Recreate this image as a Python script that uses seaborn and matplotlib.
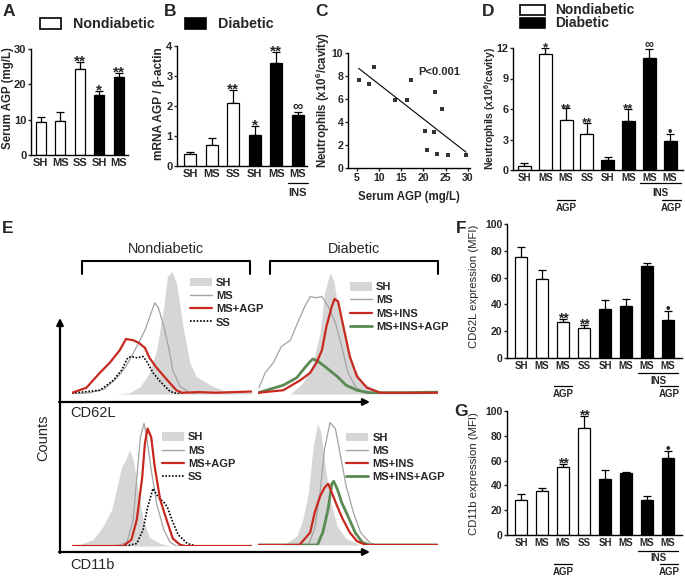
import numpy as np
import pandas as pd
import matplotlib
matplotlib.use("Agg")
import matplotlib.pyplot as plt
import seaborn as sns
from matplotlib import transforms
from matplotlib.patches import Rectangle, Patch, FancyArrowPatch
from matplotlib.lines import Line2D

# ---------------- data ----------------
ND, DB = "Nondiabetic", "Diabetic"

A_labels = ["SH", "MS", "SS", "SH", "MS"]
A_groups = [ND, ND, ND, DB, DB]
A_values = [9.25, 9.7, 24.4, 16.9, 22.2]
A_errors = [1.4, 2.5, 2.0, 1.3, 0.9]
A_marks = ["", "", "**", "*", "**"]

B_labels = ["SH", "MS", "SS", "SH", "MS", "MS"]
B_groups = [ND, ND, ND, DB, DB, DB]
B_values = [0.39, 0.70, 2.10, 1.05, 3.43, 1.71]
B_errors = [0.09, 0.24, 0.42, 0.28, 0.36, 0.09]
B_marks = ["", "", "**", "*", "**", "\u221e"]

C_serum = [5.4, 7.8, 8.9, 13.5, 16.4, 17.2, 20.3, 20.8, 22.4, 22.6, 23.0, 24.25, 25.6, 29.6]
C_neutro = [7.68, 7.3, 8.75, 5.88, 5.94, 7.68, 3.19, 1.59, 3.13, 6.64, 1.22, 5.16, 1.13, 1.16]

DFG_labels = ["SH", "MS", "MS", "SS", "SH", "MS", "MS", "MS"]
DFG_groups = [ND, ND, ND, ND, DB, DB, DB, DB]
D_values = [0.42, 11.44, 4.9, 3.53, 0.98, 4.84, 11.0, 2.84]
D_errors = [0.23, 0.55, 1.15, 1.1, 0.33, 1.2, 0.9, 0.75]
D_marks = ["", "*", "**", "**", "", "**", "\u221e", "\u2022"]

F_values = [75.7, 58.7, 26.5, 22.5, 36.5, 38.7, 69.0, 28.7]
F_errors = [7.5, 6.8, 2.8, 2.5, 6.5, 5.0, 2.0, 6.5]
F_marks = ["", "", "**", "**", "", "", "", "\u2022"]

G_values = [28.4, 35.1, 55.2, 86.0, 45.0, 49.9, 27.9, 61.7]
G_errors = [4.8, 2.7, 2.2, 10.0, 7.5, 0.8, 3.7, 6.4]
G_marks = ["", "", "**", "**", "", "", "", "\u2022"]

# flow cytometry histograms (intensity 0-100, counts 0-100)
# CD62L nondiabetic
L_nd_SH_x = [0, 25, 32, 38, 43, 47, 51, 53, 55.5, 58, 62, 65.5, 69, 77, 84, 92, 100]
L_nd_SH_y = [0, 0, 1, 6, 17, 35, 70, 94, 98, 89, 51, 25, 14, 7, 3, 2, 1]
L_nd_MS_x = [1, 10, 18, 25, 30, 36, 40.5, 43, 46, 48, 51, 54, 56, 60, 65.5, 70]
L_nd_MS_y = [0, 1, 4, 13, 22, 38, 51, 61, 73, 69, 54, 35, 19, 6, 1, 0]
L_nd_AGP_x = [0, 2, 8, 15.5, 21, 26.5, 30, 34, 37, 40.5, 43, 47, 53, 58, 61, 70, 80, 90, 100]
L_nd_AGP_y = [1, 2, 5, 17, 25, 35, 44, 43, 41, 37, 29, 21, 11, 3, 1, 1.5, 1, 1.5, 2]
L_nd_SS_x = [0, 2, 15.5, 23, 27.5, 31, 33, 36, 39.5, 42, 45, 49, 54.5, 58, 62]
L_nd_SS_y = [0, 1, 3, 11, 19, 29, 30, 29, 30, 25, 17, 10, 2, 0.5, 0]
# CD62L diabetic
L_db_SH_x = [0, 18, 25, 30.5, 34.5, 37, 40, 42, 44.5, 49, 53, 58.5, 66, 73, 85, 100]
L_db_SH_y = [0, 0, 9, 25, 49, 81, 97, 91, 70, 43, 22, 9, 3, 1, 0.5, 0]
L_db_MS_x = [0.5, 4, 8.5, 13, 18, 22, 26, 29, 32.5, 35.5, 39, 43, 46.5, 50, 54, 58.5, 65]
L_db_MS_y = [5, 17, 25, 38, 43, 57, 70, 78, 77, 78, 70, 57, 38, 17, 6, 1, 0]
L_db_INS_x = [0, 14, 23.5, 29, 32.5, 35.5, 38, 41, 42.5, 44.5, 47, 51, 55, 60.5, 68, 80, 100]
L_db_INS_y = [1, 3, 11, 17, 25, 35, 54, 70, 76, 74, 57, 30, 14, 5, 1, 1, 1]
L_db_AGP_x = [0, 14, 21.5, 26, 29, 30.5, 33.5, 38, 44, 49, 55, 62, 80, 100]
L_db_AGP_y = [1, 7, 13, 21, 26, 28, 26, 21, 14, 7, 3, 1, 1, 1.5]
# CD11b nondiabetic
B_nd_SH_x = [0, 2, 11.5, 17, 22, 25, 27.5, 30.5, 32, 34, 37, 39.5, 43, 49, 55, 100]
B_nd_SH_y = [0, 0, 5, 15, 29, 47, 63, 71, 77, 69, 42, 21, 7, 2, 0, 0]
B_nd_MS_x = [0, 25, 30.5, 34, 36, 38, 40, 41.5, 44, 47, 51, 54.5, 58, 100]
B_nd_MS_y = [0, 0, 3, 21, 55, 87, 98, 87, 61, 34, 13, 3, 0, 0]
B_nd_AGP_x = [0, 28.5, 33, 36, 39, 40.5, 42, 44, 46, 49, 53, 56, 60, 63, 100]
B_nd_AGP_y = [0, 0, 5, 21, 55, 82, 94, 87, 63, 37, 19, 6, 1, 0, 0]
B_nd_SS_x = [0, 30, 36, 39.5, 42, 45, 48, 51, 53, 55.5, 59, 64, 69, 100]
B_nd_SS_y = [0, 0, 2, 13, 31, 46, 39, 35, 31, 21, 9, 2, 0, 0]
# CD11b diabetic
B_db_SH_x = [0, 14, 21.5, 25, 28, 30.5, 33, 35, 37, 40, 44, 49, 57, 100]
B_db_SH_y = [0, 0, 7, 21, 42, 77, 97, 90, 66, 37, 15, 5, 0, 0]
B_db_MS_x = [0, 28, 31.5, 34.5, 37, 40, 43, 45.5, 49, 53, 57, 62, 65.5, 100]
B_db_MS_y = [0, 0, 13, 42, 77, 98, 93, 74, 47, 26, 10, 2, 0, 0]
B_db_INS_x = [0, 23, 29, 31.5, 34.5, 37, 39, 41, 44, 47, 51, 55, 60, 100]
B_db_INS_y = [0, 0, 10, 26, 39, 46, 49, 42, 31, 21, 10, 3, 0, 0]
B_db_AGP_x = [0, 33, 36, 39, 41, 42, 44, 46.5, 50, 54, 58, 62, 100]
B_db_AGP_y = [0, 0, 10, 29, 49, 51, 45, 34, 23, 10, 2, 0, 0]

# ---------------- style ----------------
sns.set_style("ticks")
plt.rcParams["font.family"] = ["Liberation Sans", "DejaVu Sans"]
plt.rcParams["mathtext.fontset"] = "custom"
plt.rcParams["mathtext.rm"] = "Liberation Sans"
plt.rcParams["mathtext.bf"] = "Liberation Sans:bold"

W, H = 685, 579
fig = plt.figure(figsize=(W / 100, H / 100), dpi=100)
fig.patch.set_facecolor("white")

PAL = {ND: "white", DB: "black"}
RED = "#c8281e"
GREEN = "#5b8a55"
GRAYL = "#a3a3a3"
FILL = "#d6d6d6"


def rect(x0, y0, x1, y1):
    return [x0 / W, 1 - y1 / H, (x1 - x0) / W, (y1 - y0) / H]


def ftext(px, py, s, **kw):
    fig.text(px / W, 1 - py / H, s, **kw)


def style_axes(ax):
    sns.despine(ax=ax)
    for sp in ("left", "bottom"):
        ax.spines[sp].set_linewidth(1.0)
        ax.spines[sp].set_color("black")
    ax.set_xlabel("")
    ax.set_ylabel("")
    ax.set_facecolor("none")


def bar_panel(ax, labels, groups, values, errors, marks, width, ylim, yticks,
              xlim, xfs, yfs, mfs):
    n = len(values)
    df = pd.DataFrame({"pos": np.arange(n), "value": values, "group": groups})
    sns.barplot(data=df, x="pos", y="value", hue="group", palette=PAL,
                dodge=False, width=width, edgecolor="black", linewidth=0.9,
                errorbar=None, legend=False, ax=ax)
    ax.errorbar(df["pos"], values, yerr=[np.zeros(n), errors], fmt="none",
                ecolor="black", elinewidth=0.9, capsize=2.6, capthick=0.9,
                zorder=0.5)
    for i, m in enumerate(marks):
        if m:
            off = -2.5 if m.startswith("*") else (-1.2 if m == "\u2022" else 0.8)
            fs = mfs if m.startswith("*") else mfs * 0.95
            ax.annotate(m, (i, values[i] + errors[i]), xytext=(0, off),
                        textcoords="offset points", ha="center", va="baseline",
                        fontsize=fs, fontweight="bold")
    ax.set_xlim(*xlim)
    ax.set_ylim(*ylim)
    ax.set_xticks(range(n))
    ax.set_xticklabels(labels, fontsize=xfs, fontweight="bold")
    ax.set_yticks(yticks)
    ax.set_yticklabels([f"{t:g}" for t in yticks], fontsize=yfs, fontweight="bold")
    ax.tick_params(axis="x", length=0, pad=2)
    ax.tick_params(axis="y", length=2.5, width=1, pad=0.8)
    style_axes(ax)


def hline_under(ax, x0, x1, py, lw=0.9):
    tr = transforms.blended_transform_factory(ax.transData, fig.transFigure)
    ax.add_line(Line2D([x0, x1], [1 - py / H, 1 - py / H], transform=tr,
                       color="black", lw=lw, clip_on=False))


def text_under(ax, x, py, s, fs):
    tr = transforms.blended_transform_factory(ax.transData, fig.transFigure)
    ax.text(x, 1 - py / H, s, transform=tr, ha="center", va="center",
            fontsize=fs, fontweight="bold", clip_on=False)


# ---------------- panel A ----------------
axA = fig.add_axes(rect(31, 49, 128, 155))
bar_panel(axA, A_labels, A_groups, A_values, A_errors, A_marks, 0.52,
          (0, 30), [0, 10, 20, 30], (-0.5, 4.47), 8, 8, 11)
ftext(8, 98, "Serum AGP (mg/L)", rotation=90, ha="center", va="center",
      fontsize=8.3, fontweight="bold")

# ---------------- panel B ----------------
axB = fig.add_axes(rect(177, 46, 307, 166))
bar_panel(axB, B_labels, B_groups, B_values, B_errors, B_marks, 0.56,
          (0, 4), [0, 1, 2, 3, 4], (-0.63, 5.44), 8, 8, 11)
ftext(159, 104, "mRNA AGP / \u03b2-actin", rotation=90, ha="center",
      va="center", fontsize=8.6, fontweight="bold")
hline_under(axB, 4.53, 5.47, 183)
text_under(axB, 5, 192.5, "INS", 8)

# legend for A/B
for (x0, y0, c, lab, tx) in [(40, 18, "white", ND, 73), (185, 18, "black", DB, 218)]:
    fig.add_artist(Rectangle((x0 / W, 1 - (y0 + 11) / H), 21 / W, 11 / H,
                             transform=fig.transFigure, facecolor=c,
                             edgecolor="black", lw=1.2))
    ftext(tx, 24, lab, ha="left", va="center", fontsize=10.3, fontweight="bold")

# ---------------- panel C ----------------
axC = fig.add_axes(rect(348, 53, 470, 168))
sns.regplot(x=C_serum, y=C_neutro, ci=None, ax=axC, color="black",
            marker="s", scatter_kws={"s": 9, "linewidths": 0},
            line_kws={"lw": 0.8})
axC.set_xlim(3, 30.5)
axC.set_ylim(0, 10)
axC.set_xticks([5, 10, 15, 20, 25, 30])
axC.set_xticklabels(["5", "10", "15", "20", "25", "30"], fontsize=7.6, fontweight="bold")
axC.set_yticks([0, 2, 4, 6, 8, 10])
axC.set_yticklabels(["0", "2", "4", "6", "8", "10"], fontsize=7.6, fontweight="bold")
axC.tick_params(axis="both", length=2.5, width=1, pad=0.8)
style_axes(axC)
ftext(409, 197, "Serum AGP (mg/L)", ha="center", va="center", fontsize=8.3,
      fontweight="bold")
ftext(322.5, 100, r"Neutrophils (x10$^{\mathbf{6}}$/cavity)", rotation=90,
      ha="center", va="center", fontsize=8.3, fontweight="bold")
ftext(418, 72, "P<0.001", ha="left", va="center", fontsize=8, fontweight="bold")

# ---------------- panel D ----------------
axD = fig.add_axes(rect(513, 48, 683, 170))
bar_panel(axD, DFG_labels, DFG_groups, D_values, D_errors, D_marks, 0.62,
          (0, 12), [0, 3, 6, 9, 12], (-0.55, 7.62), 7, 7.8, 9.5)
ftext(490, 109, r"Neutrophils (x10$^{\mathbf{6}}$/cavity)", rotation=90,
      ha="center", va="center", fontsize=7.5, fontweight="bold")
hline_under(axD, 5.55, 7.5, 183)
text_under(axD, 6.55, 193, "INS", 7)
hline_under(axD, 6.6, 7.5, 199.5)
text_under(axD, 7.05, 208, "AGP", 7)
hline_under(axD, 1.55, 2.45, 200)
text_under(axD, 2.0, 208, "AGP", 7)
for (y0, c, lab, ty) in [(5, "white", ND, 10), (18, "black", DB, 23)]:
    fig.add_artist(Rectangle((520 / W, 1 - (y0 + 10) / H), 25 / W, 10 / H,
                             transform=fig.transFigure, facecolor=c,
                             edgecolor="black", lw=1.2))
    ftext(555, ty, lab, ha="left", va="center", fontsize=10, fontweight="bold")

# ---------------- panel F ----------------
axF = fig.add_axes(rect(507, 224, 682, 358))
bar_panel(axF, DFG_labels, DFG_groups, F_values, F_errors, F_marks, 0.53,
          (0, 100), [0, 20, 40, 60, 80, 100], (-0.67, 7.67), 7, 7.5, 10)
ftext(474, 286, "CD62L expression (MFI)", rotation=90, ha="center",
      va="center", fontsize=8.2)
hline_under(axF, 5.55, 7.5, 373)
text_under(axF, 6.55, 381, "INS", 7)
hline_under(axF, 6.6, 7.5, 386)
text_under(axF, 7.05, 394, "AGP", 7)
hline_under(axF, 1.55, 2.45, 386)
text_under(axF, 2.0, 394, "AGP", 7)

# ---------------- panel G ----------------
axG = fig.add_axes(rect(507, 411, 682, 535))
bar_panel(axG, DFG_labels, DFG_groups, G_values, G_errors, G_marks, 0.53,
          (0, 100), [0, 20, 40, 60, 80, 100], (-0.67, 7.67), 7, 7.5, 10)
ftext(474, 474, "CD11b expression (MFI)", rotation=90, ha="center",
      va="center", fontsize=8.2)
hline_under(axG, 5.55, 7.5, 551)
text_under(axG, 6.55, 558, "INS", 7)
hline_under(axG, 6.6, 7.5, 564)
text_under(axG, 7.05, 572, "AGP", 7)
hline_under(axG, 1.55, 2.45, 564)
text_under(axG, 2.0, 572, "AGP", 7)


# ---------------- panel E ----------------
def hist_panel(ax, sh_x, sh_y, curves, order, anchor):
    """curves: dict label -> (x, y, color, lw, linestyle, zorder)"""
    ax.fill_between(sh_x, sh_y, color=FILL, lw=0, zorder=1)
    handles = {"SH": Patch(facecolor=FILL, edgecolor="none")}
    for lab, (cx, cy, col, lw, ls, z) in curves.items():
        sns.lineplot(x=cx, y=cy, ax=ax, color=col, lw=lw, linestyle=ls,
                     estimator=None, sort=False, zorder=z)
        handles[lab] = Line2D([], [], color=col, lw=max(lw, 1.0), linestyle=ls)
    ax.set_xlim(0, 100)
    ax.set_ylim(0, 100)
    ax.axis("off")
    ax.legend([handles[k] for k in order], order, loc="upper left",
              bbox_to_anchor=anchor, frameon=False,
              prop={"size": 8, "weight": "bold"},
              handlelength=2.0, handleheight=0.8, handletextpad=0.35,
              labelspacing=0.28, borderpad=0, borderaxespad=0)


DOT = (0, (1, 1))
axE1 = fig.add_axes(rect(72, 269, 252, 394))
hist_panel(axE1, L_nd_SH_x, L_nd_SH_y,
           {"MS": (L_nd_MS_x, L_nd_MS_y, GRAYL, 0.9, "-", 2),
            "SS": (L_nd_SS_x, L_nd_SS_y, "black", 1.2, DOT, 3),
            "MS+AGP": (L_nd_AGP_x, L_nd_AGP_y, RED, 1.6, "-", 4)},
           ["SH", "MS", "MS+AGP", "SS"], (0.655, 0.93))
axE2 = fig.add_axes(rect(258, 269, 438, 394))
hist_panel(axE2, L_db_SH_x, L_db_SH_y,
           {"MS": (L_db_MS_x, L_db_MS_y, GRAYL, 0.9, "-", 2),
            "MS+INS": (L_db_INS_x, L_db_INS_y, RED, 1.6, "-", 4),
            "MS+INS+AGP": (L_db_AGP_x, L_db_AGP_y, GREEN, 2.0, "-", 3)},
           ["SH", "MS", "MS+INS", "MS+INS+AGP"], (0.51, 0.895))
axE3 = fig.add_axes(rect(72, 421, 252, 546))
hist_panel(axE3, B_nd_SH_x, B_nd_SH_y,
           {"MS": (B_nd_MS_x, B_nd_MS_y, GRAYL, 0.9, "-", 2),
            "SS": (B_nd_SS_x, B_nd_SS_y, "black", 1.2, DOT, 3),
            "MS+AGP": (B_nd_AGP_x, B_nd_AGP_y, RED, 1.6, "-", 4)},
           ["SH", "MS", "MS+AGP", "SS"], (0.5, 0.91))
axE4 = fig.add_axes(rect(258, 420, 438, 545))
hist_panel(axE4, B_db_SH_x, B_db_SH_y,
           {"MS": (B_db_MS_x, B_db_MS_y, GRAYL, 0.9, "-", 2),
            "MS+INS": (B_db_INS_x, B_db_INS_y, RED, 1.6, "-", 4),
            "MS+INS+AGP": (B_db_AGP_x, B_db_AGP_y, GREEN, 2.0, "-", 3)},
           ["SH", "MS", "MS+INS", "MS+INS+AGP"], (0.49, 0.9))


# axes arrows
def farrow(p0, p1):
    fig.add_artist(FancyArrowPatch((p0[0] / W, 1 - p0[1] / H), (p1[0] / W, 1 - p1[1] / H),
                                   transform=fig.transFigure, arrowstyle="-|>",
                                   mutation_scale=10, lw=1.6, color="black",
                                   shrinkA=0, shrinkB=0))


farrow((60, 553), (60, 318))
farrow((59, 402), (370, 402))
farrow((59, 552), (370, 552))

# brackets
for (x0, x1, lab) in [(82, 250, ND), (270, 438, DB)]:
    fig.add_artist(Line2D([x0 / W, x0 / W, x1 / W, x1 / W],
                          [1 - 274 / H, 1 - 261 / H, 1 - 261 / H, 1 - 274 / H],
                          transform=fig.transFigure, color="black", lw=1.5))
    ftext((x0 + x1) / 2, 249, lab, ha="center", va="center", fontsize=10.4)

ftext(70, 413, "CD62L", ha="left", va="center", fontsize=10.5)
ftext(70, 565, "CD11b", ha="left", va="center", fontsize=10.5)
ftext(43, 438, "Counts", rotation=90, ha="center", va="center", fontsize=10.5)

# panel letters
for (lx, ly, L) in [(9, 11, "A"), (170, 11, "B"), (321, 11, "C"), (488, 11, "D"),
                    (8, 228, "E"), (461, 228, "F"), (461, 412, "G")]:
    ftext(lx, ly, L, ha="center", va="center", fontsize=12.5, fontweight="bold")

fig.savefig("out.png", dpi=100, facecolor="white")
